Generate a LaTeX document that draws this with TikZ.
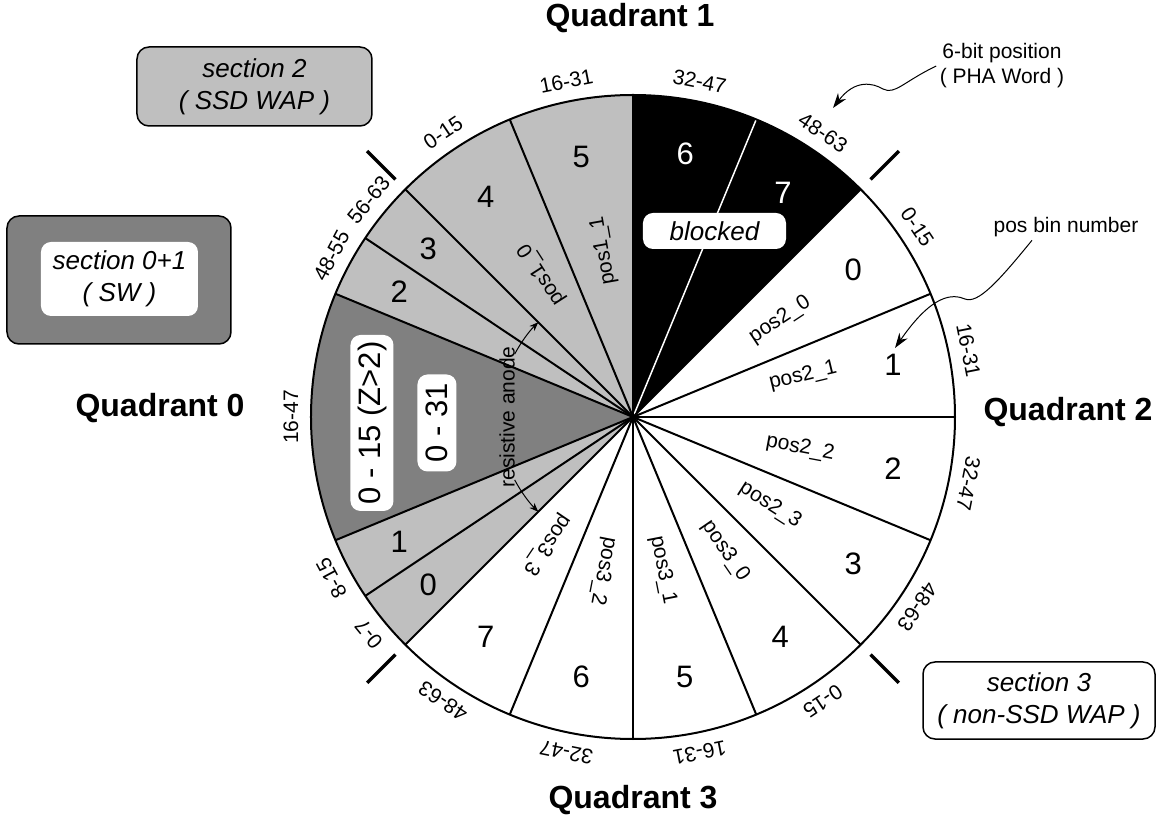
\documentclass[tikz,border=0pt]{standalone}
\usepackage{fontspec}
\setmainfont{Liberation Sans}
\usetikzlibrary{calc}
\usetikzlibrary{arrows.meta}

\definecolor{swgray}{gray}{0.5}
\definecolor{wapgray}{gray}{0.75}

\tikzset{
  binnum/.style={font=\fontsize{31}{31}\selectfont},
  rangelabel/.style={font=\fontsize{21}{21}\selectfont, inner sep=0pt},
  poslabel/.style={font=\fontsize{21}{21}\selectfont, inner sep=0pt},
  quadlabel/.style={font=\bfseries\fontsize{32}{32}\selectfont},
  notetext/.style={font=\fontsize{21}{25}\selectfont, align=center},
  sectionbox/.style={draw, line width=1.5pt, rounded corners=12pt, align=center,
    font=\itshape\fontsize{26}{32}\selectfont},
  tagbox/.style={fill=white, rounded corners=10pt, inner sep=0pt,
    font=\fontsize{31}{31}\selectfont},
  noteline/.style={line width=1pt, -{Stealth[length=15pt,width=10pt]}},
  anodeline/.style={line width=1pt, -{Stealth[length=9pt,width=7pt]}},
}

\begin{document}
\begin{tikzpicture}[x=1pt,y=1pt]
  \useasboundingbox (-633,-407) rectangle (524,417);
  \def\R{322}

  % sectors
  \fill[wapgray] (0,0) -- (90:\R) arc (90:157.5:\R) -- cycle;
  \fill[swgray] (0,0) -- (157.5:\R) arc (157.5:202.5:\R) -- cycle;
  \fill[wapgray] (0,0) -- (202.5:\R) arc (202.5:225:\R) -- cycle;
  \fill[black] (0,0) -- (45:\R) arc (45:90:\R) -- cycle;
  \draw[white, line width=1.5pt] (0,0) -- (67.5:\R);

  \foreach \a in {-112.5,-90,-67.5,-45,-22.5,0,22.5,45,90,112.5,135,146.25,157.5,202.5,213.75,225}
    \draw[line width=2pt] (0,0) -- (\a:\R);
  \draw[line width=2pt] (0,0) circle (\R);

  % quadrant ticks
  \foreach \a in {45,135,225,315}
    \draw[line width=3.5pt] (\a:{\R+14}) -- (\a:{\R+54});

  % bin numbers
  \foreach \a/\n [count=\i] in {33.75/0,11.25/1,-11.25/2,-33.75/3,-56.25/4,-78.75/5,-101.25/6,-123.75/7,
      123.75/4,101.25/5,140.625/3,151.875/2,208.125/1,219.375/0}
    \node[binnum] (bin\i) at (\a:265) {\n};
  \node[binnum, text=white] (bin6b) at (78.75:268) {6};
  \node[binnum, text=white] (bin7b) at (56.25:270) {7};

  % 6-bit ranges
  \foreach \a/\t [count=\i] in {123.75/0-15, 101.25/16-31, 78.75/32-47, 56.25/48-63,
      33.75/0-15, 11.25/16-31, -11.25/32-47, -33.75/48-63,
      -56.25/0-15, -78.75/16-31, -101.25/32-47, -123.75/48-63,
      140.625/56-63, 151.875/48-55, 180/16-47, 208.125/8-15, 219.375/0-7}
    \node[rangelabel, rotate=\a-90] (rng\i) at (\a:342) {\t};

  % pos bins
  \foreach \a/\r/\t [count=\i] in {33.4/176/pos2\_0, 13.6/175/pos2\_1, -10.5/170/pos2\_2, -32.7/163/pos2\_3,
      -55.5/163/pos3\_0, -79/156/pos3\_1, -101/157/pos3\_2, -124/154/pos3\_3,
      122.7/169/pos1\_0, 100/169/pos1\_1}
    \node[poslabel, rotate=\a] (pos\i) at (\a:\r) {\t};

  % SW sector
  \node[tagbox, rotate=90, minimum width=176pt, minimum height=43pt] (zhigh) at (-261,-6) {0 - 15 (Z>2)};
  \node[tagbox, rotate=90, minimum width=97pt, minimum height=39pt] (zlow) at (-196,-6) {0 - 31};

  \node[poslabel, rotate=90] (anode) at (180:126) {resistive anode};
  \draw[anodeline] (152:134) arc (152:135:134);
  \draw[anodeline] (208:134) arc (208:225:134);

  \node[tagbox, font=\itshape\fontsize{26}{26}\selectfont, minimum width=143pt, minimum height=36pt]
    (blocked) at (81.5,186) {blocked};

  % sections
  \node[sectionbox, fill=wapgray, minimum width=235pt, minimum height=79pt] (sec2) at (-378.5,330.5)
    {section 2\\( SSD WAP )};
  \node[sectionbox, fill=swgray, minimum width=224pt, minimum height=128pt] (sec01) at (-514,137) {};
  \node[tagbox, align=center, font=\itshape\fontsize{26}{32}\selectfont, minimum width=157pt,
    minimum height=74pt] (sec01txt) at (-513.5,138) {section 0+1\\( SW )};
  \node[sectionbox, fill=white, minimum width=232pt, minimum height=77pt] (sec3) at (406,-283.5)
    {section 3\\( non-SSD WAP )};

  % quadrants
  \node[quadlabel] (q1) at (-3,399) {Quadrant 1};
  \node[quadlabel] (q0) at (-473,9) {Quadrant 0};
  \node[quadlabel] (q2) at (435,5) {Quadrant 2};
  \node[quadlabel] (q3) at (0,-383) {Quadrant 3};

  % notes
  \node[notetext] (bitnote) at (369,351) {6-bit position\\( PHA Word )};
  \node[notetext] (binnote) at (433,190) {pos bin number};
  \coordinate (bittip) at (200,309);
  \coordinate (bintip) at (262,69);

  \draw[noteline] (bitnote.west) .. controls (270,335) and (262,322) .. (250,328)
    .. controls (240,334) and (222,338) .. (bittip);
  \draw[noteline] ($(binnote.south)+(-34,0)$) .. controls (365,135) and (345,113) .. (332,118)
    .. controls (320,123) and (300,124) .. (bintip);

\end{tikzpicture}
\end{document}
